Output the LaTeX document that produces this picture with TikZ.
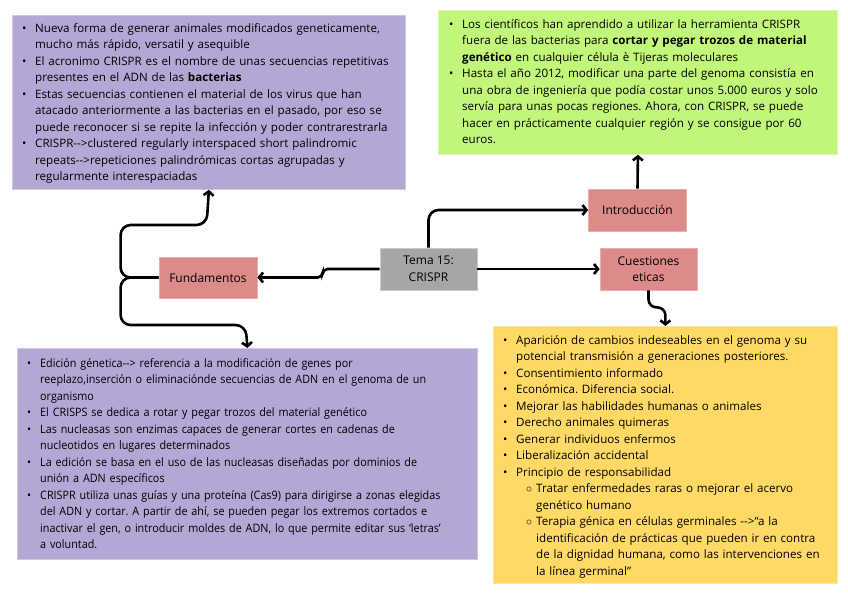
\documentclass[tikz,border=0pt]{standalone}
\usepackage{fontspec}
\setmainfont{Open Sans}
\newfontfamily\narrowfont{Open Sans}[FakeStretch=0.93]
\usetikzlibrary{arrows.meta}
\frenchspacing
\definecolor{purp}{HTML}{B4A7D6}
\definecolor{purpb}{HTML}{CFC6E6}
\definecolor{grn}{HTML}{C2F67A}
\definecolor{grnb}{HTML}{D8FAA8}
\definecolor{redn}{HTML}{DD8A8A}
\definecolor{rednb}{HTML}{EBAEAE}
\definecolor{grayn}{HTML}{A6A6A6}
\definecolor{graynb}{HTML}{CACACA}
\definecolor{yel}{HTML}{FFD966}
\definecolor{yelb}{HTML}{FFE69A}
\newcommand\fs{\fontsize{11.6}{16.5}\selectfont\parskip=0pt\frenchspacing}
\newcommand\fsn{\narrowfont\fontsize{11.6}{16.5}\selectfont\parskip=0pt\frenchspacing}
\newcommand\fsnode{\fontsize{12}{16.5}\selectfont}
\newcommand\leftlabel[1]{#1\hfil}
\newenvironment{blist}{\list{\textbullet}{\leftmargin=13pt\labelwidth=13pt\labelsep=0pt\itemindent=0pt\itemsep=0pt\parsep=0pt\topsep=0pt\partopsep=0pt\let\makelabel\leftlabel}}{\endlist}
\newenvironment{clist}{\list{$\circ$}{\leftmargin=20pt\labelwidth=10pt\labelsep=0pt\itemindent=0pt\itemsep=0pt\parsep=0pt\topsep=0pt\partopsep=0pt\let\makelabel\leftlabel}}{\endlist}
\tikzset{
  box/.style={draw=#1, line width=0.8pt, inner sep=0pt, anchor=north west},
  txt/.style={inner sep=0pt, anchor=north west, align=left, font=\fs},
  rnode/.style={fill=redn, draw=rednb, line width=0.8pt, minimum width=98pt, minimum height=42pt, inner sep=2pt, align=center, font=\fsnode},
  conn/.style={line width=2.6pt, rounded corners=10pt, -{Straight Barb[length=4pt,width=10pt]}},
}
\begin{document}
\begin{tikzpicture}[x=1pt,y=-1pt]
\useasboundingbox (0,0) rectangle (848,596);
% boxes
\node[box=purpb, fill=purp, minimum width=393pt, minimum height=174pt] (tl) at (12,15) {};
\node[box=grnb, fill=grn, minimum width=399pt, minimum height=144pt] (gr) at (438,10) {};
\node[box=purpb, fill=purp, minimum width=460pt, minimum height=211pt] (bl) at (17,348) {};
\node[box=yelb, fill=yel, minimum width=344pt, minimum height=257pt] (ye) at (493,326) {};
% texts
\node[txt, text width=380pt] (tltext) at (22,15.5) {\begin{blist}
\item\strut Nueva forma de generar animales modificados geneticamente,\newline mucho más rápido, versatil y asequible
\item El acronimo CRISPR es el nombre de unas secuencias repetitivas\newline presentes en el ADN de las \textbf{bacterias}
\item Estas secuencias contienen el material de los virus que han\newline atacado anteriormente a las bacterias en el pasado, por eso se\newline puede reconocer si se repite la infección y poder contrarestrarla
\item CRISPR-{}->clustered regularly interspaced short palindromic\newline repeats-{}->repeticiones palindrómicas cortas agrupadas y\newline regularmente interespaciadas
\end{blist}};
\node[txt, text width=385pt] (grtext) at (449,11.5) {\begin{blist}
\item\strut Los científicos han aprendido a utilizar la herramienta CRISPR\newline fuera de las bacterias para \textbf{cortar y pegar trozos de material\newline genético} en cualquier célula è Tijeras moleculares
\item Hasta el año 2012, modificar una parte del genoma consistía en\newline una obra de ingeniería que podía costar unos 5.000 euros y solo\newline servía para unas pocas regiones. Ahora, con CRISPR, se puede\newline hacer en prácticamente cualquier región y se consigue por 60\newline euros.
\end{blist}};
\node[txt, font=\fsn, text width=455pt] (bltext) at (27,350.5) {\begin{blist}
\item\strut Edición génetica-{}-> referencia a la modificación de genes por\newline reeplazo,inserción o eliminaciónde secuencias de ADN en el genoma de un\newline organismo
\item El CRISPS se dedica a rotar y pegar trozos del material genético
\item Las nucleasas son enzimas capaces de generar cortes en cadenas de\newline nucleotidos en lugares determinados
\item La edición se basa en el uso de las nucleasas diseñadas por dominios de\newline unión a ADN específicos
\item CRISPR utiliza unas guías y una proteína (Cas9) para dirigirse a zonas elegidas\newline del ADN y cortar. A partir de ahí, se pueden pegar los extremos cortados e\newline inactivar el gen, o introducir moldes de ADN, lo que permite editar sus ‘letras’\newline a voluntad.
\end{blist}};
\node[txt, text width=334pt] (yetext) at (503,327.5) {\begin{blist}
\item\strut Aparición de cambios indeseables en el genoma y su\newline potencial transmisión a generaciones posteriores.
\item Consentimiento informado
\item Económica. Diferencia social.
\item Mejorar las habilidades humanas o animales
\item Derecho animales quimeras
\item Generar individuos enfermos
\item Liberalización accidental
\item Principio de responsabilidad
\begin{clist}
\item Tratar enfermedades raras o mejorar el acervo\newline genético humano
\item Terapia génica en células germinales -{}->“a la\newline identificación de prácticas que pueden ir en contra\newline de la dignidad humana, como las intervenciones en\newline la línea germinal”
\end{clist}
\end{blist}};
% central nodes
\node[rnode, fill=grayn, draw=graynb, minimum width=97pt] (tema) at (428.5,269) {Tema 15:\\CRISPR};
\node[rnode] (intro) at (637.5,210) {Introducción};
\node[rnode, minimum height=41pt] (fund) at (208,277.5) {Fundamentos};
\node[rnode, minimum width=97pt] (cues) at (648.5,269) {Cuestiones\\eticas};
% connectors
\draw[conn] (tema.north) |- (intro.west);
\draw[conn, rounded corners=5pt] (tema.west) -- ++(-57,0) |- (fund.east);
\draw[conn] (tema.east) -- (cues.west);
\draw[conn] (intro.north) -- (gr.south);
\draw[conn, rounded corners=8pt] (cues.south) -- ++(0,17) -| (ye.north);
\draw[conn] (fund.west) -- ++(-38,0) |- ++(86,-52.5) -- (tl.south);
\draw[conn] (fund.west) -- ++(-38,0) |- ++(125,47.5) -- (bl.north);
\end{tikzpicture}
\end{document}
